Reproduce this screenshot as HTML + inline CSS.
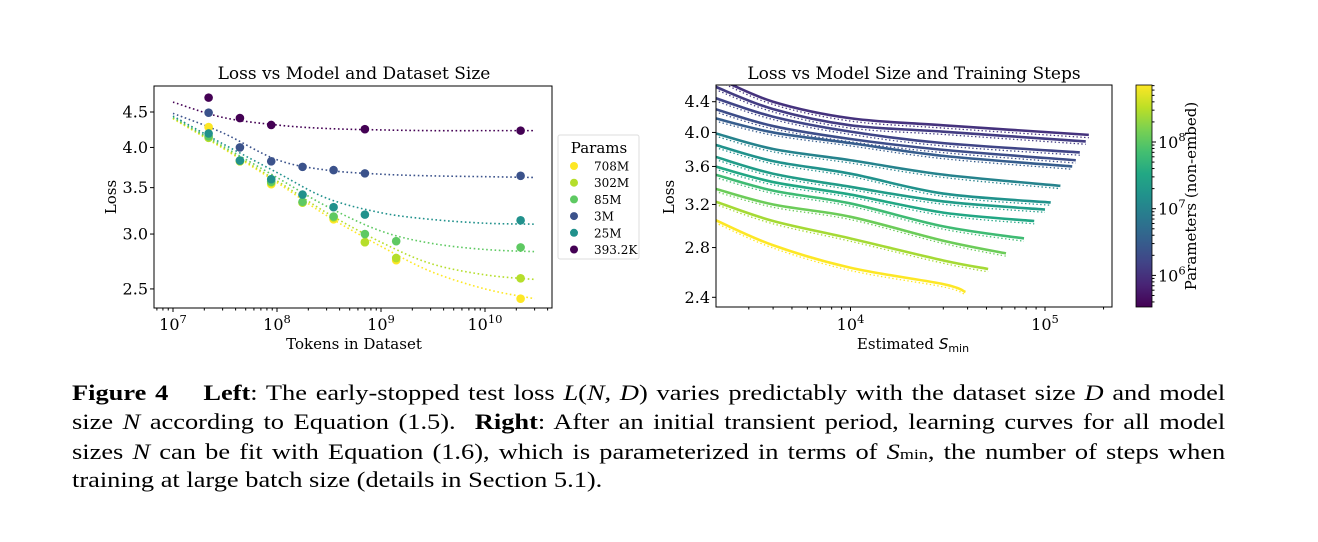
<!DOCTYPE html>
<html><head><meta charset="utf-8"><style>
body{margin:0;background:#fff;width:1318px;height:542px;overflow:hidden;position:relative}
svg{position:absolute;left:0;top:0}
.cap{position:absolute;left:72px;width:961px;font-family:"Liberation Serif",serif;font-size:22px;color:#000;white-space:nowrap;line-height:29px;transform:scaleX(1.2);transform-origin:0 0}
.j{text-align:justify;text-align-last:justify}
i{font-style:italic}
</style></head><body>
<svg id="fig" width="1318" height="542" xmlns="http://www.w3.org/2000/svg" font-family="DejaVu Serif, serif"></svg>
<div class="cap j" style="top:378px"><b>Figure 4</b>&nbsp;&nbsp;&nbsp; <b>Left</b>: The early-stopped test loss <i>L</i>(<i>N, D</i>) varies predictably with the dataset size <i>D</i> and model</div>
<div class="cap j" style="top:407px">size <i>N</i> according to Equation (1.5). &nbsp;<b>Right</b>: After an initial transient period, learning curves for all model</div>
<div class="cap j" style="top:437px">sizes <i>N</i> can be fit with Equation (1.6), which is parameterized in terms of <i>S</i><span style="font-size:15px">min</span>, the number of steps when</div>
<div class="cap" style="top:465px">training at large batch size (details in Section 5.1).</div>
<script>
// ---------- LEFT CHART DATA ----------
const leftLabels = ["708M","302M","85M","3M","25M","393.2K"];
const leftColors = ["#fde725","#b5de2b","#5ec962","#3b528b","#21918c","#440154"];
const pointD = [2.2e7,4.4e7,8.8e7,1.76e8,3.5e8,7e8,1.4e9,2.2e10];
const loss708M  = [4.28,3.82,3.54,3.33,3.15,2.92,2.75,2.42];
const loss302M  = [4.13,3.82,3.56,3.33,3.17,2.92,2.77,2.59];
const loss85M   = [4.15,3.83,3.57,3.34,3.18,3.00,2.93,2.87];
const loss3M    = [4.49,4.00,3.82,3.75,3.71,3.67,null,3.64];
const loss25M   = [4.19,3.83,3.60,3.42,3.28,3.20,null,3.14];
const loss393K  = [4.72,4.41,4.31,null,null,4.25,null,4.23];
const fitD = [1e7,3e7,1e8,3e8,1e9,3e9,1e10,3e10];
const fit708M = [4.40,3.99,3.56,3.19,2.88,2.65,2.50,2.42];
const fit302M = [4.41,4.00,3.58,3.22,2.92,2.72,2.62,2.58];
const fit85M  = [4.42,4.02,3.62,3.29,3.03,2.91,2.85,2.83];
const fit3M   = [4.48,4.20,3.84,3.71,3.66,3.64,3.63,3.62];
const fit25M  = [4.44,4.05,3.68,3.38,3.22,3.15,3.11,3.10];
const fit393K = [4.65,4.42,4.31,4.26,4.24,4.23,4.23,4.23];
const leftPoints=[loss708M,loss302M,loss85M,loss3M,loss25M,loss393K];
const leftFits=[fit708M,fit302M,fit85M,fit3M,fit25M,fit393K];
const leftYTicks=[2.5,3.0,3.5,4.0,4.5];
const leftXTicks=[7,8,9,10];
// ---------- RIGHT CHART DATA ----------
const curveSteps=[2018,4000,1e4,3e4];
const curveParamsLog=[6.0,6.1,6.2,6.3,6.5,7.0,7.2,7.35,7.5,7.8,8.1,8.4,8.85];
const c1=[4.75,4.40,4.18,4.09], c2=[4.61,4.30,4.09,4.01], c3=[4.45,4.20,4.01,3.87],
      c4=[4.30,4.08,3.92,3.79], c5=[4.18,4.00,3.87,3.72], c6=[3.99,3.80,3.67,3.51],
      c7=[3.85,3.66,3.52,3.31], c8=[3.71,3.52,3.38,3.23], c9=[3.60,3.43,3.30,3.12],
      c10=[3.51,3.34,3.21,2.99], c11=[3.36,3.20,3.08,2.86], c12=[3.23,3.04,2.88,2.69],
      c13=[3.05,2.82,2.63,2.50];
const curveEndStep=[1.68e5,1.62e5,1.51e5,1.44e5,1.38e5,1.2e5,1.07e5,1e5,8.8e4,7.8e4,6.3e4,5.1e4,3.9e4];
const curveEndLoss=[3.97,3.89,3.76,3.67,3.60,3.39,3.22,3.15,3.04,2.88,2.75,2.62,2.44];
const curves=[c1,c2,c3,c4,c5,c6,c7,c8,c9,c10,c11,c12,c13];
const rightYTicks=[2.4,2.8,3.2,3.6,4.0,4.4];
const rightXTicks=[4,5];
const cbarTicks=[6,7,8];

const NS="http://www.w3.org/2000/svg";
const svg=document.getElementById('fig');
function el(tag,attrs,parent,text){const e=document.createElementNS(NS,tag);for(const k in attrs)e.setAttribute(k,attrs[k]);if(text!==undefined)e.textContent=text;(parent||svg).appendChild(e);return e;}
function smooth(pts){let d="M"+pts[0][0]+","+pts[0][1];for(let i=0;i<pts.length-1;i++){const p0=pts[Math.max(0,i-1)],p1=pts[i],p2=pts[i+1],p3=pts[Math.min(pts.length-1,i+2)];const c1x=p1[0]+(p2[0]-p0[0])/6,c1y=p1[1]+(p2[1]-p0[1])/6,c2x=p2[0]-(p3[0]-p1[0])/6,c2y=p2[1]-(p3[1]-p1[1])/6;d+=` C${c1x},${c1y} ${c2x},${c2y} ${p2[0]},${p2[1]}`;}return d;}
const vstops=[[0,"#440154"],[.1,"#482475"],[.2,"#414487"],[.3,"#355f8d"],[.4,"#2a788e"],[.5,"#21918c"],[.6,"#22a884"],[.7,"#44bf70"],[.8,"#7ad151"],[.9,"#bddf26"],[1,"#fde725"]];
function hex(h){return[1,3,5].map(i=>parseInt(h.substr(i,2),16));}
function viridis(t){t=Math.max(0,Math.min(1,t));for(let i=0;i<vstops.length-1;i++){if(t<=vstops[i+1][0]){const f=(t-vstops[i][0])/(vstops[i+1][0]-vstops[i][0]);const a=hex(vstops[i][1]),b=hex(vstops[i+1][1]);return`rgb(${a.map((v,j)=>Math.round(v+(b[j]-v)*f)).join(",")})`;}}return vstops[10][1];}

el('defs',{},svg).innerHTML='<clipPath id="clipL"><rect x="154" y="86" width="398" height="222"/></clipPath><clipPath id="clipR"><rect x="716" y="85" width="396" height="222"/></clipPath><linearGradient id="vgrad" x1="0" y1="1" x2="0" y2="0">'+vstops.map(s=>`<stop offset="${s[0]}" stop-color="${s[1]}"/>`).join("")+'</linearGradient>';

// ===== LEFT =====
const L={x0:154,x1:552,y0:86,y1:308};
const lx=d=>173+(Math.log10(d)-7)*104;
const ly=v=>112+(Math.log(4.5)-Math.log(v))*301;
const gL=el('g',{});


el('text',{x:354,y:79,'text-anchor':'middle','font-size':17},gL,'Loss vs Model and Dataset Size');
const pl=el('g',{'clip-path':'url(#clipL)'},gL);
leftFits.forEach((f,si)=>{const p=el('path',{d:smooth(fitD.map((d,i)=>[lx(d),ly(f[i])])),fill:'none',stroke:leftColors[si],'stroke-width':1.6,'stroke-dasharray':'1.6,2.6'},pl);

});
leftPoints.forEach((arr,si)=>{arr.forEach((v,i)=>{if(v==null)return;const c=el('circle',{cx:lx(pointD[i]),cy:ly(v),r:4.3,fill:leftColors[si]},pl);

});});
el('rect',{x:L.x0,y:L.y0,width:L.x1-L.x0,height:L.y1-L.y0,fill:'none',stroke:'#000','stroke-width':1},gL);
leftYTicks.forEach(v=>{const y=ly(v);el('line',{x1:L.x0-4,x2:L.x0,y1:y,y2:y,stroke:'#000'},gL);const t=el('text',{x:L.x0-6,y:y+5.5,'text-anchor':'end','font-size':16},gL,v.toFixed(1));

});
for(let e=6;e<=10;e++)for(let m=1;m<10;m++){const x=lx(m*Math.pow(10,e));if(x<L.x0||x>L.x1)continue;el('line',{x1:x,x2:x,y1:L.y1,y2:L.y1+(m==1?4:2.5),stroke:'#000'},gL);}
leftXTicks.forEach(e=>{const t=el('text',{x:lx(Math.pow(10,e)),y:330,'text-anchor':'middle','font-size':16},gL);t.innerHTML=`10<tspan dy="-7" font-size="11.5">${e}</tspan>`;

});
el('text',{x:354,y:349,'text-anchor':'middle','font-size':15},gL,'Tokens in Dataset');
el('text',{x:0,y:0,transform:'translate(116,197) rotate(-90)','text-anchor':'middle','font-size':15},gL,'Loss');
// legend
const lg=el('g',{},gL);


el('rect',{x:558,y:135,width:81,height:124,rx:2,fill:'#fff',stroke:'#ddd'},lg);
el('text',{x:599,y:153,'text-anchor':'middle','font-size':15},lg,'Params');
leftLabels.forEach((n,i)=>{const y=166+i*16.7;const g=el('g',{},lg);


el('circle',{cx:574,cy:y,r:4,fill:leftColors[i]},g);el('text',{x:594,y:y+4.5,'font-size':12},g,n);});

// ===== RIGHT =====
const R={x0:716,x1:1112,y0:85,y1:307};
const rx=s=>850.5+(Math.log10(s)-4)*194.5;
const ry=v=>101.7+(Math.log(4.4)-Math.log(v))*322.7;
const gR=el('g',{});


el('text',{x:914,y:79,'text-anchor':'middle','font-size':17},gR,'Loss vs Model Size and Training Steps');
const pr=el('g',{'clip-path':'url(#clipR)'},gR);
curves.forEach((c,ci)=>{const col=viridis((curveParamsLog[ci]-5.52)/(8.85-5.52));const pts=curveSteps.map((s,i)=>[rx(s),ry(c[i])]);pts.push([rx(curveEndStep[ci]),ry(curveEndLoss[ci])]);
const p=el('path',{d:smooth(pts),fill:'none',stroke:col,'stroke-width':2.6},pr);


const f=el('path',{d:smooth(pts.map(q=>[q[0],q[1]+2.8])),fill:'none',stroke:col,'stroke-width':1.3,'stroke-dasharray':'1.4,2.4'},pr);

});
el('rect',{x:R.x0,y:R.y0,width:R.x1-R.x0,height:R.y1-R.y0,fill:'none',stroke:'#000'},gR);
rightYTicks.forEach(v=>{const y=ry(v);el('line',{x1:R.x0-4,x2:R.x0,y1:y,y2:y,stroke:'#000'},gR);const t=el('text',{x:R.x0-6,y:y+5.5,'text-anchor':'end','font-size':16},gR,v.toFixed(1));

});
for(let e=3;e<=5;e++)for(let m=1;m<10;m++){const x=rx(m*Math.pow(10,e));if(x<R.x0||x>R.x1)continue;el('line',{x1:x,x2:x,y1:R.y1,y2:R.y1+(m==1?4:2.5),stroke:'#000'},gR);}
rightXTicks.forEach(e=>{const t=el('text',{x:rx(Math.pow(10,e)),y:330,'text-anchor':'middle','font-size':16},gR);t.innerHTML=`10<tspan dy="-7" font-size="11.5">${e}</tspan>`;

});
const xt=el('text',{x:913,y:349,'text-anchor':'middle','font-size':15},gR);xt.innerHTML='Estimated <tspan font-family="DejaVu Sans, sans-serif" font-style="italic">S</tspan><tspan font-family="DejaVu Sans, sans-serif" font-size="11" dy="3">min</tspan>';


el('text',{x:0,y:0,transform:'translate(674,197) rotate(-90)','text-anchor':'middle','font-size':15},gR,'Loss');
// colorbar
const cb=el('g',{},svg);


el('rect',{x:1136,y:85,width:16,height:222,fill:'url(#vgrad)',stroke:'#000','stroke-width':0.8},cb);
const cy=e=>142+(8-e)*66.7;
for(let e=5;e<=8;e++)for(let m=1;m<10;m++){const y=cy(e+Math.log10(m));if(y<85||y>307)continue;el('line',{x1:1152,x2:1152+(m==1?4:2.5),y1:y,y2:y,stroke:'#000'},cb);}
cbarTicks.forEach(e=>{const t=el('text',{x:1158,y:cy(e)+6,'font-size':16},cb);t.innerHTML=`10<tspan dy="-7" font-size="11.5">${e}</tspan>`;});
el('text',{x:0,y:0,transform:'translate(1196,196) rotate(-90)','text-anchor':'middle','font-size':15},cb,'Parameters (non-embed)');
</script>
</body></html>
